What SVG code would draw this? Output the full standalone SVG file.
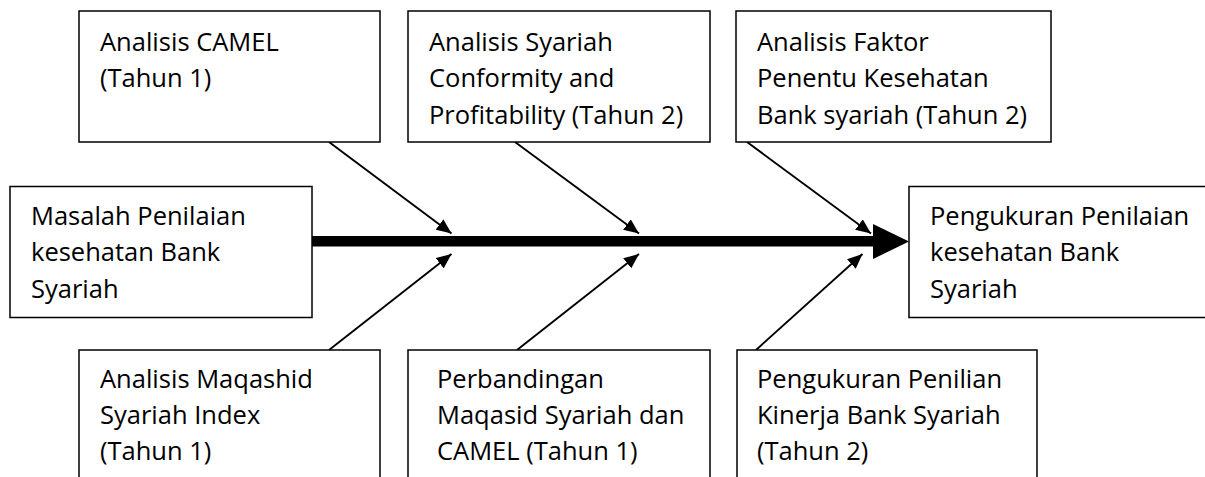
<svg xmlns="http://www.w3.org/2000/svg" width="1205" height="477" viewBox="0 0 1205 477">
<style>
.box{fill:#fff;stroke:#000;stroke-width:1.5}
.t{font-family:"Open Sans","Liberation Sans",sans-serif;font-size:25.5px;fill:#000}
.c{stroke:#000;stroke-width:1.9;fill:none}
</style>
<defs>
<marker id="ah" markerUnits="userSpaceOnUse" markerWidth="15" markerHeight="13" refX="15" refY="6.5" orient="auto">
<path d="M0,0 L15,6.5 L0,13 z" fill="#000"/>
</marker>
</defs>
<rect width="1205" height="477" fill="#fff"/>
<g id="connectors">
<rect x="312" y="236" width="562" height="10.5" fill="#000"/>
<polygon points="873,224 909,241.5 873,259" fill="#000"/>
<line class="c" x1="329" y1="142" x2="451.5" y2="233.5" marker-end="url(#ah)"/>
<line class="c" x1="515" y1="142" x2="639" y2="233.5" marker-end="url(#ah)"/>
<line class="c" x1="747" y1="142" x2="871" y2="233.5" marker-end="url(#ah)"/>
<line class="c" x1="329" y1="350" x2="451.5" y2="254" marker-end="url(#ah)"/>
<line class="c" x1="517" y1="350" x2="639" y2="254" marker-end="url(#ah)"/>
<line class="c" x1="756" y1="350" x2="862.5" y2="254" marker-end="url(#ah)"/>
</g>
<g id="n1">
<rect class="box" x="79" y="11" width="301" height="131"/>
<text class="t" x="100" y="50.5">Analisis CAMEL</text>
<text class="t" x="100" y="87">(Tahun 1)</text>
</g>
<g id="n2">
<rect class="box" x="408" y="11" width="302" height="131"/>
<text class="t" x="429" y="50.5">Analisis Syariah</text>
<text class="t" x="429" y="87">Conformity and</text>
<text class="t" x="429" y="123.5">Profitability (Tahun 2)</text>
</g>
<g id="n3">
<rect class="box" x="736" y="11" width="315" height="131"/>
<text class="t" x="757" y="50.5">Analisis Faktor</text>
<text class="t" x="757" y="87">Penentu Kesehatan</text>
<text class="t" x="757" y="123.5">Bank syariah (Tahun 2)</text>
</g>
<g id="n4">
<rect class="box" x="10" y="186.5" width="302" height="131"/>
<text class="t" x="31" y="224.5">Masalah Penilaian</text>
<text class="t" x="31" y="261">kesehatan Bank</text>
<text class="t" x="31" y="297.5">Syariah</text>
</g>
<g id="n5">
<rect class="box" x="909" y="186.5" width="320" height="131"/>
<text class="t" x="930" y="224.5">Pengukuran Penilaian</text>
<text class="t" x="930" y="261">kesehatan Bank</text>
<text class="t" x="930" y="297.5">Syariah</text>
</g>
<g id="n6">
<rect class="box" x="79" y="350" width="301" height="150"/>
<text class="t" x="100" y="388">Analisis Maqashid</text>
<text class="t" x="100" y="424">Syariah Index</text>
<text class="t" x="100" y="460">(Tahun 1)</text>
</g>
<g id="n7">
<rect class="box" x="408" y="350" width="302" height="150"/>
<text class="t" x="437" y="388">Perbandingan</text>
<text class="t" x="437" y="424">Maqasid Syariah dan</text>
<text class="t" x="437" y="460">CAMEL (Tahun 1)</text>
</g>
<g id="n8">
<rect class="box" x="737" y="350" width="300" height="150"/>
<text class="t" x="757" y="388">Pengukuran Penilian</text>
<text class="t" x="757" y="424">Kinerja Bank Syariah</text>
<text class="t" x="757" y="460">(Tahun 2)</text>
</g>
</svg>
